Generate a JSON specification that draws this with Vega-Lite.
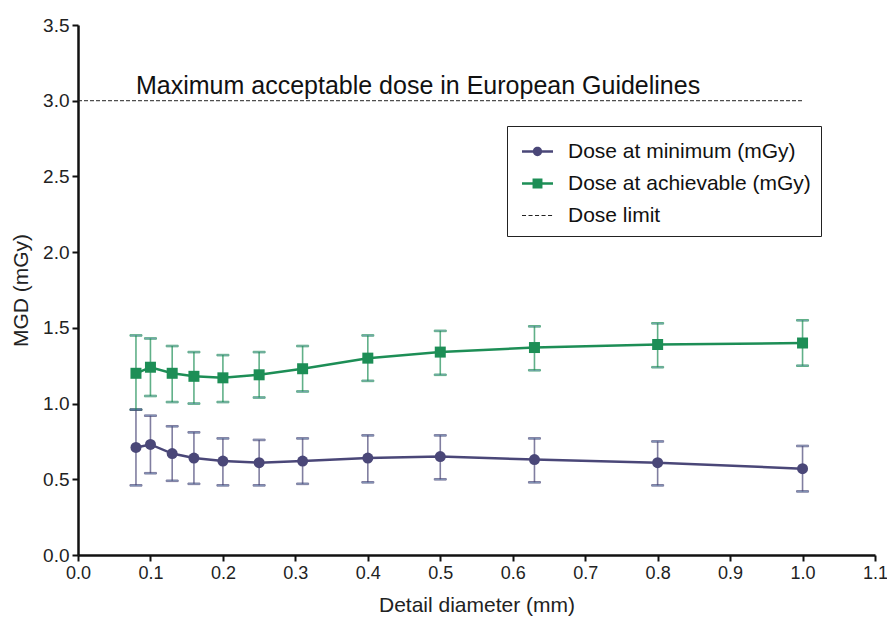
{
  "$schema": "https://vega.github.io/schema/vega-lite/v6.json",
  "width": 797,
  "height": 530,
  "autosize": "none",
  "padding": {"left": 78, "top": 25, "right": 12, "bottom": 62},
  "background": "white",
  "config": {
    "view": {"stroke": null},
    "font": "Liberation Sans",
    "axis": {
      "grid": false,
      "domainColor": "#111",
      "domainWidth": 2.5,
      "tickColor": "#111",
      "tickWidth": 2,
      "tickSize": 6,
      "labelFontSize": 19,
      "labelColor": "#222",
      "titleFontSize": 21,
      "titleFontWeight": "normal",
      "titleColor": "#222",
      "labelFont": "Liberation Sans",
      "titleFont": "Liberation Sans",
      "labelFlush": false
    }
  },
  "datasets": {
    "pts": [
      {"d": 0.08, "series": "Dose at minimum (mGy)", "mean": 0.71, "lo": 0.46, "hi": 0.96},
      {"d": 0.10, "series": "Dose at minimum (mGy)", "mean": 0.73, "lo": 0.54, "hi": 0.92},
      {"d": 0.13, "series": "Dose at minimum (mGy)", "mean": 0.67, "lo": 0.49, "hi": 0.85},
      {"d": 0.16, "series": "Dose at minimum (mGy)", "mean": 0.64, "lo": 0.47, "hi": 0.81},
      {"d": 0.20, "series": "Dose at minimum (mGy)", "mean": 0.62, "lo": 0.46, "hi": 0.77},
      {"d": 0.25, "series": "Dose at minimum (mGy)", "mean": 0.61, "lo": 0.46, "hi": 0.76},
      {"d": 0.31, "series": "Dose at minimum (mGy)", "mean": 0.62, "lo": 0.47, "hi": 0.77},
      {"d": 0.40, "series": "Dose at minimum (mGy)", "mean": 0.64, "lo": 0.48, "hi": 0.79},
      {"d": 0.50, "series": "Dose at minimum (mGy)", "mean": 0.65, "lo": 0.50, "hi": 0.79},
      {"d": 0.63, "series": "Dose at minimum (mGy)", "mean": 0.63, "lo": 0.48, "hi": 0.77},
      {"d": 0.80, "series": "Dose at minimum (mGy)", "mean": 0.61, "lo": 0.46, "hi": 0.75},
      {"d": 1.00, "series": "Dose at minimum (mGy)", "mean": 0.57, "lo": 0.42, "hi": 0.72},
      {"d": 0.08, "series": "Dose at achievable (mGy)", "mean": 1.20, "lo": 0.96, "hi": 1.45},
      {"d": 0.10, "series": "Dose at achievable (mGy)", "mean": 1.24, "lo": 1.05, "hi": 1.43},
      {"d": 0.13, "series": "Dose at achievable (mGy)", "mean": 1.20, "lo": 1.01, "hi": 1.38},
      {"d": 0.16, "series": "Dose at achievable (mGy)", "mean": 1.18, "lo": 1.00, "hi": 1.34},
      {"d": 0.20, "series": "Dose at achievable (mGy)", "mean": 1.17, "lo": 1.01, "hi": 1.32},
      {"d": 0.25, "series": "Dose at achievable (mGy)", "mean": 1.19, "lo": 1.04, "hi": 1.34},
      {"d": 0.31, "series": "Dose at achievable (mGy)", "mean": 1.23, "lo": 1.08, "hi": 1.38},
      {"d": 0.40, "series": "Dose at achievable (mGy)", "mean": 1.30, "lo": 1.15, "hi": 1.45},
      {"d": 0.50, "series": "Dose at achievable (mGy)", "mean": 1.34, "lo": 1.19, "hi": 1.48},
      {"d": 0.63, "series": "Dose at achievable (mGy)", "mean": 1.37, "lo": 1.22, "hi": 1.51},
      {"d": 0.80, "series": "Dose at achievable (mGy)", "mean": 1.39, "lo": 1.24, "hi": 1.53},
      {"d": 1.00, "series": "Dose at achievable (mGy)", "mean": 1.40, "lo": 1.25, "hi": 1.55}
    ],
    "limit": [
      {"x0": 0, "x1": 1.0, "v": 3.0, "label": "Maximum acceptable dose in European Guidelines", "lx": 0.08}
    ]
  },
  "layer": [
    {
      "data": {"name": "limit"},
      "mark": {"type": "rule", "strokeDash": [4, 2], "strokeWidth": 1, "color": "#222"},
      "encoding": {
        "x": {"field": "x0", "type": "quantitative", "scale": {"domain": [0, 1.1], "nice": false}, "title": "Detail diameter (mm)",
          "axis": {"values": [0, 0.1, 0.2, 0.3, 0.4, 0.5, 0.6, 0.7, 0.8, 0.9, 1.0, 1.1], "format": ".1f", "titlePadding": 12, "labelPadding": 3, "labelFontSize": 18}},
        "x2": {"field": "x1"},
        "y": {"field": "v", "type": "quantitative", "scale": {"domain": [0, 3.5], "nice": false}, "title": "MGD (mGy)",
          "axis": {"values": [0, 0.5, 1.0, 1.5, 2.0, 2.5, 3.0, 3.5], "format": ".1f", "titlePadding": 11, "labelPadding": 3}}
      }
    },
    {
      "data": {"name": "limit"},
      "mark": {"type": "text", "align": "left", "baseline": "alphabetic", "fontSize": 25, "dy": -7, "color": "#111", "font": "Liberation Sans"},
      "encoding": {
        "x": {"field": "lx", "type": "quantitative", "title": "Detail diameter (mm)"},
        "y": {"field": "v", "type": "quantitative", "title": "MGD (mGy)"},
        "text": {"field": "label"}
      }
    },
    {
      "data": {"name": "pts"},
      "mark": {"type": "point", "filled": true, "size": 16, "opacity": 1},
      "encoding": {
        "x": {"field": "d", "type": "quantitative", "title": "Detail diameter (mm)"},
        "y": {"field": "mean", "type": "quantitative", "title": "MGD (mGy)"},
        "shape": {"field": "series", "type": "nominal",
          "scale": {"domain": ["Dose at minimum (mGy)", "Dose at achievable (mGy)", "Dose limit"],
            "range": [
              "M-1,-0.08H1V0.08H-1Z M-0.3,0A0.3,0.3 0 1,1 0.3,0A0.3,0.3 0 1,1 -0.3,0Z",
              "M-1,-0.08H1V0.08H-1Z M-0.32,-0.32H0.32V0.32H-0.32Z",
              "M-1,-0.035H-0.74V0.035H-1Z M-0.58,-0.035H-0.32V0.035H-0.58Z M-0.16,-0.035H0.1V0.035H-0.16Z M0.26,-0.035H0.52V0.035H0.26Z M0.68,-0.035H0.94V0.035H0.68Z"
            ]}},
        "color": {"field": "series", "type": "nominal",
          "scale": {"domain": ["Dose at minimum (mGy)", "Dose at achievable (mGy)", "Dose limit"], "range": ["#4a4778", "#1d8e56", "#222222"]},
          "legend": {
            "title": null,
            "orient": "none",
            "legendX": 429,
            "legendY": 101,
            "strokeColor": "#222",
            "padding": 10,
            "symbolOffset": 5,
            "symbolSize": 961,
            "symbolOpacity": 1,
            "symbolStrokeWidth": 0,
            "labelFontSize": 21,
            "labelColor": "#111",
            "labelFont": "Liberation Sans",
            "labelOffset": 15,
            "labelLimit": 500,
            "rowPadding": 6
          }
        }
      }
    },
    {
      "data": {"name": "pts"},
      "mark": {"type": "errorbar", "ticks": {"size": 12, "thickness": 1.6}, "rule": {"strokeWidth": 1.6}, "opacity": 0.7},
      "encoding": {
        "x": {"field": "d", "type": "quantitative", "title": "Detail diameter (mm)"},
        "y": {"field": "lo", "type": "quantitative", "title": "MGD (mGy)"},
        "y2": {"field": "hi"},
        "stroke": {"field": "series", "type": "nominal", "legend": null,
          "scale": {"domain": ["Dose at minimum (mGy)", "Dose at achievable (mGy)"], "range": ["#4a4778", "#1d8e56"]}}
      }
    },
    {
      "data": {"name": "pts"},
      "mark": {"type": "line", "strokeWidth": 2.5},
      "encoding": {
        "x": {"field": "d", "type": "quantitative", "title": "Detail diameter (mm)"},
        "y": {"field": "mean", "type": "quantitative", "title": "MGD (mGy)"},
        "stroke": {"field": "series", "type": "nominal", "legend": null}
      }
    },
    {
      "data": {"name": "pts"},
      "transform": [{"filter": "datum.series === 'Dose at minimum (mGy)'"}],
      "mark": {"type": "point", "filled": true, "size": 121, "opacity": 1, "shape": "circle", "color": "#4a4778"},
      "encoding": {
        "x": {"field": "d", "type": "quantitative", "title": "Detail diameter (mm)"},
        "y": {"field": "mean", "type": "quantitative", "title": "MGD (mGy)"}
      }
    },
    {
      "data": {"name": "pts"},
      "transform": [{"filter": "datum.series === 'Dose at achievable (mGy)'"}],
      "mark": {"type": "point", "filled": true, "size": 121, "opacity": 1, "shape": "square", "color": "#1d8e56"},
      "encoding": {
        "x": {"field": "d", "type": "quantitative", "title": "Detail diameter (mm)"},
        "y": {"field": "mean", "type": "quantitative", "title": "MGD (mGy)"}
      }
    }
  ]
}
